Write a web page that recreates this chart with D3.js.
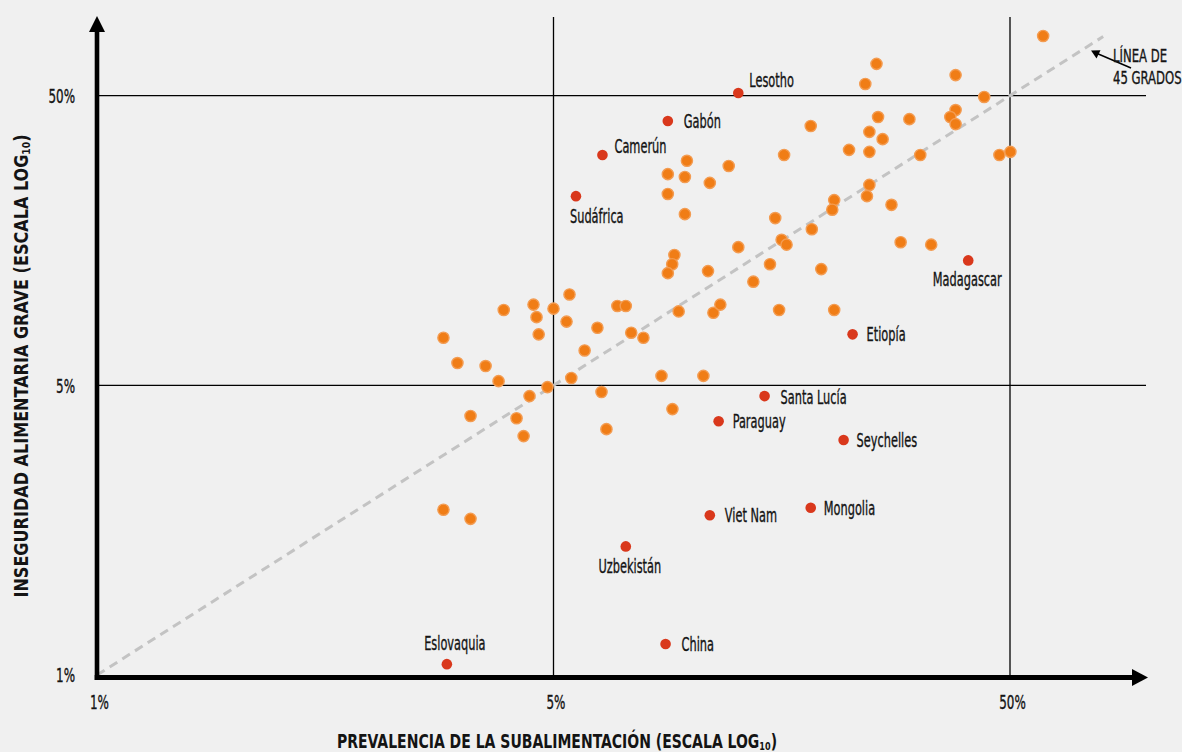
<!DOCTYPE html>
<html><head><meta charset="utf-8">
<script src="https://cdn.jsdelivr.net/npm/d3@7"></script>
<style>
html,body{margin:0;padding:0;background:#f0f0f0;}
svg{display:block;}
text{font-family:"Liberation Sans Narrow","Arial Narrow","DejaVu Sans Condensed",sans-serif;fill:#141414;}
.lbl{stroke:#141414;stroke-width:0.35px;}
</style></head><body>
<svg id="chart" width="1182" height="752"></svg>
<script>
// ---- data (percent) ----
const otherX = [59.1,25.5,38.0,24.1,43.9,25.7,30.1,38.0,37.0,38.0,
  18.3,24.6,26.3,16.0,22.2,24.6,31.8,47.4,50.1,24.6,
  24.3,27.5,20.6,20.4,15.3,18.4,15.8,16.2,28.8,33.6,
  14.9,19.3,13.7,15.6,20.6,9.8,8.9,9.7,12.1,11.0,
  8.9,9.7,12.7,9.2,9.1,8.9,10.9,6.9,7.2,9.4,
  11.2,11.6,7.4,2.87,3.89,4.52,4.59,5.0,5.42,5.34,
  4.64,6.24,7.87,5.85,3.08,3.55,3.79,4.85,5.47,4.43,
  6.37,8.62,10.65,3.29,4.15,4.30,6.53,9.11,2.87,3.29];
const otherY = [80.4,64.4,58.9,54.9,49.5,42.2,41.5,44.6,42.2,39.9,
  39.3,37.5,35.4,31.2,32.5,32.0,31.2,31.2,32.0,24.6,
  22.5,21.0,21.8,20.2,18.9,17.3,15.9,15.3,15.6,15.3,
  13.1,12.6,11.4,9.1,9.1,29.8,26.8,26.2,28.6,25.0,
  22.9,19.5,15.0,14.1,13.1,12.2,12.4,9.4,9.4,9.0,
  8.9,9.5,7.6,7.3,9.1,9.5,8.6,9.2,10.3,8.3,
  7.5,7.9,7.3,6.6,5.97,5.83,5.17,4.93,5.30,4.59,
  4.74,5.39,5.39,3.92,3.85,3.34,3.53,4.14,1.86,1.73];
const namedCountries = ["Lesotho","Gabón","Camerún","Sudáfrica","Madagascar","Etiopía","Santa Lucía","Paraguay","Seychelles","Viet Nam","Mongolia","Uzbekistán","China","Eslovaquia"];
const namedX = [12.7,8.9,6.4,5.6,40.5,22.6,14.5,11.5,21.6,11.0,18.3,7.2,8.8,2.92];
const namedY = [51.1,40.9,31.2,22.5,13.5,7.5,4.59,3.76,3.24,1.78,1.89,1.39,0.64,0.545];
const tickValues = [0.5, 5, 50];
const tickLabels = ["1%", "5%", "50%"];
const diagonalEnds = [0.5, 80];
const xTitle = "PREVALENCIA DE LA SUBALIMENTACIÓN (ESCALA LOG";
const yTitle = "INSEGURIDAD ALIMENTARIA GRAVE (ESCALA LOG";
const titleSub = "10";
const noteLines = ["LÍNEA DE", "45 GRADOS"];

// ---- label placement (style) ----
const labelPos = {
  "Lesotho":{dx:11,dy:-13,a:"start"}, "Gabón":{dx:16,dy:0,a:"start"},
  "Camerún":{dx:12,dy:-9,a:"start"}, "Sudáfrica":{dx:-6,dy:20,a:"start"},
  "Madagascar":{dx:-1,dy:19,a:"middle"}, "Etiopía":{dx:14,dy:0,a:"start"},
  "Santa Lucía":{dx:16,dy:1,a:"start"}, "Paraguay":{dx:14,dy:0,a:"start"},
  "Seychelles":{dx:13,dy:0,a:"start"}, "Viet Nam":{dx:15,dy:0,a:"start"},
  "Mongolia":{dx:13,dy:0,a:"start"}, "Uzbekistán":{dx:4,dy:20,a:"middle"},
  "China":{dx:16,dy:0,a:"start"}, "Eslovaquia":{dx:8,dy:-21,a:"middle"}
};
const SX = 0.665, FS = 19, TSX = 0.7;

const svg = d3.select("#chart");
const x = d3.scaleLog().domain([0.5, 50]).range([97, 1010]);
const y = d3.scaleLog().domain([0.5, 50]).range([675, 95.7]);
const axisY = 677.5, axisX = 97;

// gridlines
const grid = svg.append("g").attr("stroke", "#000").attr("stroke-width", 1.3);
[5, 50].forEach(v => {
  grid.append("line").attr("x1", x(v)).attr("x2", x(v)).attr("y1", 17).attr("y2", axisY);
  grid.append("line").attr("x1", axisX).attr("x2", 1146).attr("y1", y(v)).attr("y2", y(v));
});

// 45 degree line
svg.append("line")
  .attr("x1", x(diagonalEnds[0])).attr("y1", y(diagonalEnds[0]))
  .attr("x2", x(diagonalEnds[1])).attr("y2", y(diagonalEnds[1]))
  .attr("stroke", "#c3c3c3").attr("stroke-width", 3).attr("stroke-dasharray", "9,6");

// points
svg.append("g").selectAll("circle").data(otherX.map((d, i) => [d, otherY[i]]))
  .join("circle").attr("cx", d => x(d[0])).attr("cy", d => y(d[1])).attr("r", 5.6)
  .attr("fill", "#f07d16").attr("stroke", "#f39c52").attr("stroke-width", 1.4);
const named = namedCountries.map((n, i) => ({n, vx: namedX[i], vy: namedY[i]}));
svg.append("g").selectAll("circle").data(named)
  .join("circle").attr("cx", d => x(d.vx)).attr("cy", d => y(d.vy)).attr("r", 5.3)
  .attr("fill", "#d9381c");

function label(px, py, str, anchor, opts = {}) {
  const g = svg.append("g").attr("transform", `translate(${px},${py}) scale(${opts.sx || SX},1)`);
  return g.append("text").attr("class", "lbl").attr("text-anchor", anchor).attr("font-size", opts.fs || FS)
    .attr("font-weight", opts.fw || "normal").text(str);
}
named.forEach(d => {
  const p = labelPos[d.n];
  label(x(d.vx) + p.dx, y(d.vy) + p.dy + 6.8, d.n, p.a);
});

// axes tick labels via d3 axes
const gx = svg.append("g").attr("transform", `translate(0,${axisY})`)
  .call(d3.axisBottom(x).tickValues(tickValues).tickFormat((d, i) => tickLabels[i]).tickSize(0));
gx.select(".domain").remove();
gx.selectAll("text").attr("y", 0).attr("dy", 0).attr("font-size", FS)
  .attr("font-family", null).attr("transform", `translate(2,31.5) scale(${TSX},1)`);
const gy = svg.append("g").attr("transform", `translate(${axisX},0)`)
  .call(d3.axisLeft(y).tickValues(tickValues).tickFormat((d, i) => tickLabels[i]).tickSize(0));
gy.select(".domain").remove();
gy.selectAll("text").attr("x", 0).attr("dy", "0.36em").attr("font-size", FS)
  .attr("font-family", null).attr("transform", `translate(-22,0) scale(${TSX},1)`);
svg.selectAll(".tick text").attr("fill", "#141414").attr("class", "lbl");

// axis lines with arrows
svg.append("line").attr("x1", axisX).attr("x2", axisX).attr("y1", axisY + 2.5).attr("y2", 30)
  .attr("stroke", "#000").attr("stroke-width", 4.6);
svg.append("path").attr("d", `M${axisX - 8},32 L${axisX + 8},32 L${axisX},16 Z`).attr("fill", "#000");
svg.append("line").attr("x1", axisX - 2.3).attr("x2", 1134).attr("y1", axisY).attr("y2", axisY)
  .attr("stroke", "#000").attr("stroke-width", 5);
svg.append("path").attr("d", `M1132,${axisY - 8.5} L1132,${axisY + 8.5} L1148,${axisY} Z`).attr("fill", "#000");

// annotation
svg.append("line").attr("x1", 1131).attr("y1", 68).attr("x2", 1096).attr("y2", 53)
  .attr("stroke", "#000").attr("stroke-width", 1.5);
svg.append("path").attr("d", "M1091,50.5 L1100.5,50.3 L1096.5,58.5 Z").attr("fill", "#000");
label(1113, 62, noteLines[0], "start", {fs: 18, sx: 0.72});
label(1113, 84, noteLines[1], "start", {fs: 18, sx: 0.72});

// axis titles
function title(tx, ty, rot, main, sx) {
  const g = svg.append("g").attr("transform", `translate(${tx},${ty}) rotate(${rot}) scale(${sx},1)`);
  const t = g.append("text").attr("text-anchor", "middle").attr("font-size", 19).attr("font-weight", "bold");
  t.append("tspan").text(main);
  t.append("tspan").attr("font-size", 11).attr("dy", 2).text(titleSub);
  t.append("tspan").attr("dy", -2).text(")");
}
title(557, 748, 0, xTitle, 0.82);
title(28, 366, -90, yTitle, 0.94);
</script>
</body></html>
